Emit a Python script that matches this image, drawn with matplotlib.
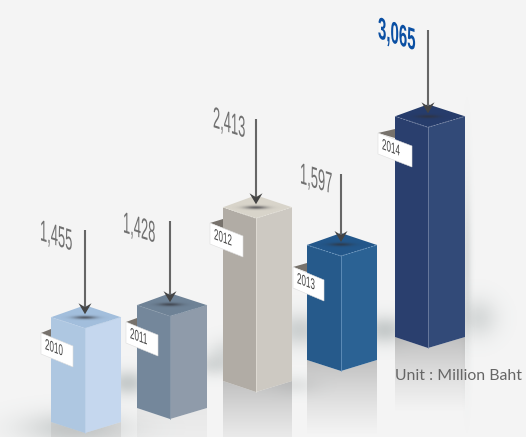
import numpy as np
import matplotlib
matplotlib.use("Agg")
import matplotlib.pyplot as plt
from matplotlib.patches import Polygon
from matplotlib.patheffects import AbstractPathEffect
from matplotlib.transforms import Affine2D

years = ["2010", "2011", "2012", "2013", "2014"]
income = [1455, 1428, 2413, 1597, 3065]
unit_label = "Unit : Million Baht"

# layout of the pseudo-3D columns, in pixels
px_per_unit = 0.072
base_y = [433, 419, 392, 371, 348]
left_x = [51, 137, 223, 307, 395]
mid_x = [85, 170, 256, 341, 428]
right_x = [121, 207, 292, 377, 465]
left_col = ["#AEC7E1", "#74879B", "#B1ACA5", "#265A8B", "#2A3F6E"]
right_col = ["#C5D7EE", "#8F9BAA", "#CDC9C2", "#2B6294", "#324A78"]
top_col = ["#A2BEDC", "#6E8296", "#D8D4CA", "#23578A", "#263C6B"]
edge_col = ["#BBD0E8", "#8496A8", "#E4E1D9", "#6F9BC4", "#7D8CAB"]
reflect_alpha = [0.3, 0.2, 0.65, 0.65, 0.65]

# value labels and arrows
label_x = [40, 123, 213, 300, 378]
label_y = [240, 232, 127, 183, 38]
arrow_top = [230, 221, 119, 174, 30]

# year tags: top-left corner of the paper strip
tag_x = [41, 126, 210, 293, 378]
tag_y = [333, 322, 223, 267, 133]
tag_w = [32, 32, 33, 31, 34]

# soft floor shadows: x, y, sigma x, sigma y, alpha
shadows = [
    (75, 428, 38, 12, 0.30),
    (128, 383, 14, 9, 0.35),
    (214, 365, 16, 8, 0.22),
    (228, 352, 14, 10, 0.18),
    (300, 330, 18, 12, 0.30),
    (385, 330, 16, 10, 0.35),
    (478, 318, 14, 14, 0.22),
    (295, 385, 16, 7, 0.14),
    (467, 265, 3, 60, 0.22),
]

BG = "#F4F4F4"
NARROW = ["Liberation Sans Narrow", "Liberation Sans", "DejaVu Sans"]


class Slant(AbstractPathEffect):
    """Stretches glyphs upward and shears the baseline, pivoting on the text origin."""

    def __init__(self, stretch, shear):
        super().__init__()
        self.stretch = stretch
        self.shear = shear

    def draw_path(self, renderer, gc, tpath, affine, rgbFace=None):
        ox, oy = affine.transform((0, 0))
        m = Affine2D(np.array([[1, 0, 0], [-self.shear, self.stretch, 0], [0, 0, 1]]))
        full = affine + Affine2D().translate(-ox, -oy) + m + Affine2D().translate(ox, oy)
        renderer.draw_path(gc, tpath, full, rgbFace)


def blob(ax, cx, cy, sx, sy, alpha, rgb=(0.45, 0.5, 0.5), z=1):
    xs = np.linspace(-3, 3, 80)
    g = np.exp(-0.5 * (xs[None, :] ** 2 + xs[:, None] ** 2))
    img = np.zeros((80, 80, 4))
    img[..., :3] = rgb
    img[..., 3] = g * alpha
    ax.imshow(img, extent=(cx - 3 * sx, cx + 3 * sx, cy + 3 * sy, cy - 3 * sy),
              aspect="auto", zorder=z, interpolation="bilinear")


fig = plt.figure(figsize=(5.26, 4.37), dpi=100, facecolor=BG)
ax = fig.add_axes([0, 0, 1, 1])
ax.set_facecolor(BG)
ax.axis("off")

for s in shadows:
    blob(ax, *s)

for i, val in enumerate(income):
    h = val * px_per_unit
    lx, mx, rx = left_x[i], mid_x[i], right_x[i]
    fy = base_y[i]
    ty = fy - h
    z = 3 + i

    # fading reflection under the column
    fade = np.zeros((90, 2, 4))
    fade[..., :3] = 0.62
    fade[..., 3] = np.linspace(reflect_alpha[i], 0, 90)[:, None] ** 1.2
    im = ax.imshow(fade, extent=(lx, rx, fy + 65, fy - 11), aspect="auto", zorder=2)
    clip = Polygon([(lx, fy - 11), (mx, fy), (rx, fy - 11), (rx, fy + 65), (lx, fy + 65)],
                   transform=ax.transData)
    im.set_clip_path(clip)

    # faces
    ax.add_patch(Polygon([(lx, ty - 11), (mx, ty), (mx, fy), (lx, fy - 11)], fc=left_col[i], ec="none", zorder=z))
    ax.add_patch(Polygon([(mx, ty), (rx, ty - 11), (rx, fy - 11), (mx, fy)], fc=right_col[i], ec="none", zorder=z))
    ax.add_patch(Polygon([(lx, ty - 11), (mx, ty - 23), (rx, ty - 11), (mx, ty)], fc=top_col[i], ec="none", zorder=z))
    ax.plot([lx, mx, rx], [ty - 11, ty, ty - 11], color=edge_col[i], lw=0.6, ls=(0, (2, 1.5)), zorder=z + 0.1)
    ax.plot([mx, mx], [ty, fy], color=edge_col[i], lw=0.5, zorder=z + 0.1)

    # dark spot where the arrow lands
    blob(ax, mx, ty - 11, 8, 1.1, 0.7, rgb=(0.2, 0.2, 0.22), z=z + 0.2)

    # arrow
    tip = ty - 14
    ax.plot([mx, mx], [arrow_top[i], tip - 5], color="#666666", lw=1.5, solid_capstyle="butt", zorder=z + 0.3)
    ax.add_patch(Polygon([(mx, tip), (mx - 6.5, tip - 11), (mx, tip - 7), (mx + 6.5, tip - 11)],
                         fc="#444444", ec="none", zorder=z + 0.4))

    # value label
    top_bar = i == len(income) - 1
    ax.text(label_x[i], label_y[i], f"{val:,}", family=NARROW,
            fontsize=10.8 if top_bar else 9.3, fontweight="bold" if top_bar else "normal",
            color="#0A4FA3" if top_bar else "#707070", ha="left", va="baseline", zorder=20,
            path_effects=[Slant(2.05 if top_bar else 2.3, 0.33)])

    # year tag with its folded corner
    tx, tyy, tw = tag_x[i], tag_y[i], tag_w[i]
    ax.add_patch(Polygon([(tx, tyy), (lx, tyy - 4), (lx, tyy + 5)], fc="#77726C", ec="none", zorder=z + 0.5))
    ax.add_patch(Polygon([(tx, tyy), (tx + tw, tyy + 13), (tx + tw, tyy + 34), (tx, tyy + 21)],
                         fc="white", ec="#DDDDDD", lw=0.4, zorder=z + 0.6))
    ax.text(tx + 4, tyy + 16, years[i], family=NARROW, fontsize=5.8, color="#444444",
            ha="left", va="baseline", zorder=z + 0.7, path_effects=[Slant(1.9, 0.38)])

ax.text(395, 380, unit_label, family=["Lato", "DejaVu Sans"], fontsize=11.4, color="#666666",
        ha="left", va="baseline", zorder=20)

ax.set_xlim(0, 526)
ax.set_ylim(437, 0)
fig.savefig("out.png", dpi=100, facecolor=BG)
